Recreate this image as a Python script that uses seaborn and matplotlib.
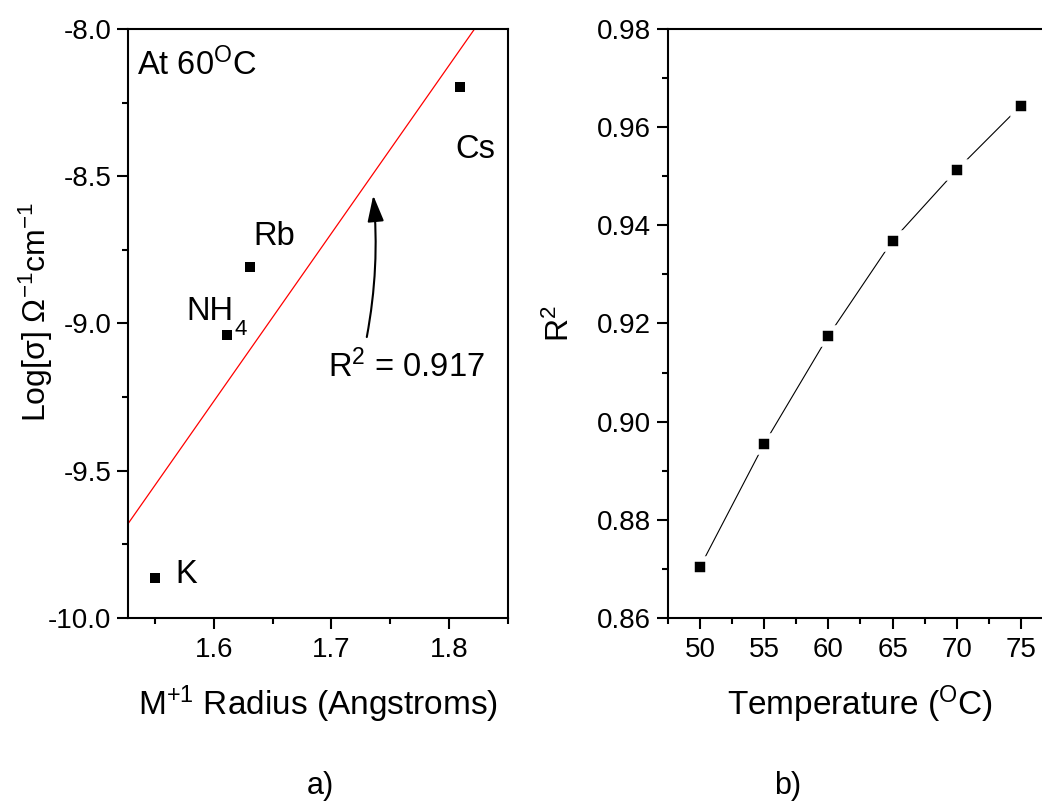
import numpy as np
import pandas as pd
import matplotlib
matplotlib.use("Agg")
import matplotlib.pyplot as plt
import seaborn as sns
from matplotlib.ticker import MultipleLocator, FormatStrFormatter

# ---- data ----
ions = ["K", "NH4", "Rb", "Cs"]
radius = [1.550, 1.611, 1.631, 1.809]
log_sigma = [-9.864, -9.040, -8.808, -8.197]
temperature = [50, 55, 60, 65, 70, 75]
r_squared = [0.8704, 0.8955, 0.9175, 0.9369, 0.9513, 0.9644]
r2_text = "0.917"

df_a = pd.DataFrame({"ion": ions, "radius": radius, "log_sigma": log_sigma})
df_b = pd.DataFrame({"T": temperature, "R2": r_squared})

sns.set_theme(style="ticks")
plt.rcParams.update({
    "font.family": ["Liberation Sans", "DejaVu Sans"],
    "mathtext.fontset": "custom",
    "mathtext.rm": "Liberation Sans",
    "mathtext.it": "Liberation Sans:italic",
    "mathtext.bf": "Liberation Sans:bold",
    "mathtext.default": "regular",
    "axes.linewidth": 1.5,
    "axes.edgecolor": "black",
    "axes.labelcolor": "black",
    "xtick.color": "black",
    "ytick.color": "black",
    "text.color": "black",
})

fig = plt.figure(figsize=(10.42, 8.05), dpi=100)
ax1 = fig.add_axes([0.1228, 0.2323, 0.3647, 0.7317])
ax2 = fig.add_axes([0.6410, 0.2323, 0.3696, 0.7317])

# ---------- panel a ----------
ax1.set_xlim(1.527, 1.85)
ax1.set_ylim(-10.0, -8.0)
sns.regplot(data=df_a, x="radius", y="log_sigma", ax=ax1, scatter=False,
            ci=None, truncate=False, line_kws=dict(color="red", lw=0.9))
sns.scatterplot(data=df_a, x="radius", y="log_sigma", ax=ax1, marker="s",
                s=54, color="black", linewidth=0, zorder=3)
ax1.set_xlim(1.527, 1.85)
ax1.set_ylim(-10.0, -8.0)

fs_note = 23.5
ax1.text(1.5345, -8.156, r"At 60$^{O}$C", fontsize=fs_note, ha="left", va="baseline")
ax1.text(1.805, -8.438, "Cs", fontsize=fs_note, ha="left", va="baseline")
ax1.text(1.634, -8.733, "Rb", fontsize=fs_note, ha="left", va="baseline")
ax1.text(1.577, -8.988, "NH", fontsize=fs_note, ha="left", va="baseline")
ax1.text(1.6175, -9.040, "4", fontsize=16, ha="left", va="baseline")
ax1.text(1.567, -9.881, "K", fontsize=fs_note, ha="left", va="baseline")
ax1.text(1.697, -9.182, r"R$^{2}$ = " + r2_text, fontsize=fs_note, ha="left", va="baseline")
ax1.annotate("", xy=(1.7355, -8.565), xytext=(1.730, -9.046),
             arrowprops=dict(arrowstyle="-|>,head_length=0.8,head_width=0.25",
                             connectionstyle="arc3,rad=0.07", color="black",
                             lw=1.5, mutation_scale=20, shrinkA=0, shrinkB=0))

ax1.xaxis.set_major_locator(MultipleLocator(0.1))
ax1.xaxis.set_minor_locator(MultipleLocator(0.05))
ax1.yaxis.set_major_locator(MultipleLocator(0.5))
ax1.yaxis.set_minor_locator(MultipleLocator(0.25))
ax1.xaxis.set_major_formatter(FormatStrFormatter("%.1f"))
ax1.yaxis.set_major_formatter(FormatStrFormatter("%.1f"))
ax1.set_xlabel(r"M$^{+1}$ Radius (Angstroms)", fontsize=24)
ax1.set_ylabel(r"Log[σ] Ω$^{-1}$cm$^{-1}$", fontsize=23)
ax1.xaxis.set_label_coords(0.5, -0.112)
ax1.yaxis.set_label_coords(-0.193, 0.52)

# ---------- panel b ----------
sns.lineplot(data=df_b, x="T", y="R2", ax=ax2, color="black", lw=0.8,
             marker="s", markersize=11.2, markerfacecolor="black",
             markeredgecolor="white", markeredgewidth=4)
ax2.set_xlim(47.5, 77.5)
ax2.set_ylim(0.86, 0.98)
ax2.xaxis.set_major_locator(MultipleLocator(5))
ax2.xaxis.set_minor_locator(MultipleLocator(2.5))
ax2.yaxis.set_major_locator(MultipleLocator(0.02))
ax2.yaxis.set_minor_locator(MultipleLocator(0.01))
ax2.yaxis.set_major_formatter(FormatStrFormatter("%.2f"))
ax2.set_xlabel(r"Temperature ($^{O}$C)", fontsize=24)
ax2.set_ylabel(r"R$^{2}$", fontsize=23)
ax2.xaxis.set_label_coords(0.5, -0.112)
ax2.yaxis.set_label_coords(-0.238, 0.5)

for ax in (ax1, ax2):
    for s in ax.spines.values():
        s.set_visible(True)
        s.set_linewidth(1.5)
        s.set_color("black")
    ax.tick_params(which="both", direction="out", top=False, right=False,
                   width=1.5, colors="black")
    ax.tick_params(which="major", length=8, labelsize=20)
    ax.tick_params(axis="x", which="major", pad=6)
    ax.tick_params(axis="y", which="major", pad=4)
    ax.tick_params(which="minor", length=4)

fig.text(0.307, 0.0236, "a)", fontsize=22, ha="center", va="center")
fig.text(0.756, 0.0236, "b)", fontsize=22, ha="center", va="center")

fig.savefig("out.png", dpi=100)
